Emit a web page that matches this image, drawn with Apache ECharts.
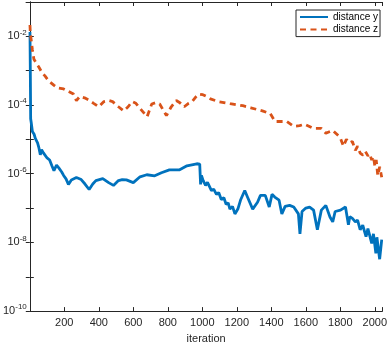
<!DOCTYPE html>
<html>
<head>
<meta charset="utf-8">
<script src="https://cdn.jsdelivr.net/npm/echarts@6/dist/echarts.min.js"></script>
<style>
  html, body { margin: 0; padding: 0; background: #fff; }
  #chart { width: 390px; height: 349px; }
</style>
</head>
<body>
<div id="chart"></div>
<script>
  // distance y (blue, solid)
  const iterY = [1, 3, 5, 8, 15, 25, 32, 45, 53, 61, 68, 80, 100, 115, 128, 140, 155, 168, 185, 196,
    210, 224, 241, 270, 298, 320, 344, 365, 383, 423, 457, 485, 514, 536, 560, 600, 639, 678, 724, 763,
    809, 866, 911, 968, 985, 990, 995, 1005, 1019, 1030, 1053, 1066, 1082, 1095, 1110, 1125, 1138, 1150, 1160, 1175,
    1189, 1206, 1223, 1246, 1263, 1292, 1320, 1337, 1365, 1388, 1404, 1420, 1445, 1461, 1480, 1506, 1530, 1557, 1566, 1578,
    1600, 1622, 1645, 1667, 1690, 1716, 1740, 1756, 1770, 1801, 1830, 1847, 1855, 1870, 1887, 1900, 1915, 1930, 1949, 1960,
    1982, 1992, 2006, 2012, 2028, 2040];
  const distY = [1.35e-2, 1e-3, 3.98e-5, 3.16e-5, 1.70e-5, 1.41e-5, 1.07e-5, 7.94e-6, 5.62e-6, 3.55e-6, 5.01e-6, 3.98e-6, 2.88e-6, 2.51e-6, 1.70e-6, 1.23e-6, 1.78e-6, 1.48e-6, 1.12e-6, 8.91e-7,
    7.08e-7, 4.90e-7, 6.61e-7, 7.76e-7, 6.76e-7, 5.01e-7, 3.47e-7, 5.01e-7, 6.31e-7, 7.24e-7, 5.50e-7, 4.57e-7, 6.31e-7, 6.76e-7, 6.61e-7, 5.50e-7, 8.13e-7, 9.33e-7, 8.71e-7, 1.07e-6,
    1.29e-6, 1.29e-6, 1.70e-6, 1.95e-6, 1.91e-6, 4.90e-7, 8.91e-7, 6.31e-7, 4.57e-7, 5.62e-7, 3.24e-7, 3.55e-7, 2.51e-7, 2.82e-7, 1.78e-7, 2.0e-7, 1.29e-7, 1.41e-7, 9.33e-8, 1.12e-7,
    6.76e-8, 9.33e-8, 1.78e-7, 3.24e-7, 2.04e-7, 9.33e-8, 1.48e-7, 2.34e-7, 2.34e-7, 1.07e-7, 2.51e-7, 2.09e-7, 1.70e-7, 6.76e-8, 1.12e-7, 1.20e-7, 1.07e-7, 6.76e-8, 1.78e-8, 7.94e-8,
    1.0e-7, 1.07e-7, 8.71e-8, 2.34e-8, 8.71e-8, 1.20e-7, 5.50e-8, 3.98e-8, 7.94e-8, 8.71e-8, 1.07e-7, 3.24e-8, 5.62e-8, 5.01e-8, 3.98e-8, 4.47e-8, 2.34e-8, 3.16e-8, 1.48e-8, 2.51e-8,
    9.33e-9, 1.78e-8, 4.79e-9, 1.41e-8, 3.24e-9, 1.20e-8];

  // distance z (orange, dashed)
  const iterZ = [1, 3, 8, 15, 24, 40, 53, 70, 89, 110, 139, 160, 196, 231, 253, 270, 290, 317, 340, 370,
    400, 430, 458, 480, 514, 544, 570, 593, 615, 639, 680, 707, 730, 753, 792, 820, 849, 870, 895, 920,
    941, 965, 979, 990, 1003, 1020, 1047, 1093, 1161, 1235, 1281, 1348, 1394, 1422, 1450, 1490, 1529, 1564, 1593, 1643,
    1690, 1716, 1756, 1790, 1801, 1818, 1835, 1852, 1870, 1887, 1900, 1915, 1931, 1945, 1960, 1970, 1982, 1992, 2000, 2008,
    2017, 2028, 2040];
  const distZ = [2.14e-2, 1.26e-2, 7.94e-3, 4.07e-3, 2.14e-3, 1.58e-3, 1.26e-3, 8.91e-4, 6.92e-4, 5.01e-4, 3.80e-4, 3.16e-4, 2.95e-4, 2.40e-4, 2.09e-4, 1.35e-4, 1.78e-4, 1.62e-4, 1.41e-4, 1.12e-4,
    8.91e-5, 1.26e-4, 1.35e-4, 1.26e-4, 8.91e-5, 6.76e-5, 8.91e-5, 1.26e-4, 1.12e-4, 7.94e-5, 4.57e-5, 1.07e-4, 1.17e-4, 1.07e-4, 4.90e-5, 8.91e-5, 1.35e-4, 1.17e-4, 8.91e-5, 1.12e-4,
    1.26e-4, 1.78e-4, 2.09e-4, 2.19e-4, 2.0e-4, 1.82e-4, 1.51e-4, 1.26e-4, 1.10e-4, 9.55e-5, 8.32e-5, 6.76e-5, 5.62e-5, 3.31e-5, 3.31e-5, 3.31e-5, 2.40e-5, 2.51e-5, 2.75e-5, 2.09e-5,
    2.09e-5, 1.51e-5, 1.82e-5, 1.26e-5, 1.07e-5, 6.31e-6, 1.0e-5, 7.94e-6, 8.71e-6, 4.79e-6, 6.31e-6, 3.98e-6, 3.47e-6, 4.47e-6, 3.31e-6, 3.80e-6, 2.51e-6, 3.16e-6, 1.70e-6, 2.51e-6,
    8.91e-7, 1.58e-6, 7.94e-7];

  const xTicks = [200, 400, 600, 800, 1000, 1200, 1400, 1600, 1800, 2000];

  const axisCol = '#262626';
  const font = 'Liberation Sans, Arial, sans-serif';

  const chart = echarts.init(document.getElementById('chart'), null, { renderer: 'canvas' });

  function pairs(xs, ys) {
    return xs.map((x, i) => [x, ys[i]]);
  }

  const xBase = {
    type: 'value', min: 0, max: 2044, interval: 200,
    axisLine: { show: true, lineStyle: { color: axisCol, width: 1 } },
    axisTick: { show: true, inside: true, length: 4, lineStyle: { color: axisCol } },
    splitLine: { show: false }
  };
  const yBase = {
    type: 'log', logBase: 10, min: 1e-10, max: 1e-1, interval: 1,
    axisLine: { show: true, lineStyle: { color: axisCol, width: 1 } },
    axisTick: { show: true, inside: true, length: 4, lineStyle: { color: axisCol } },
    splitLine: { show: false }
  };

  chart.setOption({
    animation: false,
    textStyle: { fontFamily: font },
    grid: { left: 27, right: 2, top: 2, bottom: 33, containLabel: false },
    legend: {
      orient: 'vertical', left: 296, top: 10,
      data: ['distance y', 'distance z'],
      itemWidth: 28, itemHeight: 12, itemGap: 2.6,
      padding: [2, 2, 2, 3],
      borderColor: '#262626', borderWidth: 1, backgroundColor: '#fff',
      borderRadius: 0,
      itemStyle: { opacity: 0, borderWidth: 0 },
      textStyle: { fontSize: 10, color: '#000', fontFamily: font },
      selectedMode: false
    },
    xAxis: [
      Object.assign({}, xBase, {
        position: 'bottom',
        name: 'iteration', nameLocation: 'middle', nameGap: 21,
        nameTextStyle: { fontSize: 11, color: axisCol, fontFamily: font },
        axisLabel: {
          fontSize: 11, color: axisCol, margin: 6, fontFamily: font,
          formatter: v => (xTicks.indexOf(v) >= 0 ? String(v) : '')
        }
      }),
      Object.assign({}, xBase, { position: 'top', axisLabel: { show: false } })
    ],
    yAxis: [
      Object.assign({}, yBase, {
        position: 'left',
        axisLabel: {
          margin: 3, color: axisCol, fontFamily: font,
          formatter: function (v) {
            const e = Math.round(Math.log10(v));
            if (e % 2 !== 0) return '';
            return '{b|10}{s|' + e + '}';
          },
          rich: {
            b: { fontSize: 11, color: axisCol, fontFamily: font },
            s: { fontSize: 8, color: axisCol, fontFamily: font, verticalAlign: 'top', padding: [0, 0, 8, 0] }
          }
        }
      }),
      Object.assign({}, yBase, { position: 'right', axisLabel: { show: false } })
    ],
    series: [
      {
        name: 'distance y', type: 'line', xAxisIndex: 0, yAxisIndex: 0,
        data: pairs(iterY, distY),
        symbol: 'none', showSymbol: false,
        lineStyle: { color: '#0072BD', width: 2.8 },
        itemStyle: { color: '#0072BD' },
        clip: true
      },
      {
        name: 'distance z', type: 'line', xAxisIndex: 0, yAxisIndex: 0,
        data: pairs(iterZ, distZ),
        symbol: 'none', showSymbol: false,
        lineStyle: { color: '#D95319', width: 2.8, type: [6, 4.5] },
        itemStyle: { color: '#D95319' },
        clip: true
      }
    ]
  });

  window.addEventListener('resize', function () {
    chart.resize();
  });
</script>
</body>
</html>
